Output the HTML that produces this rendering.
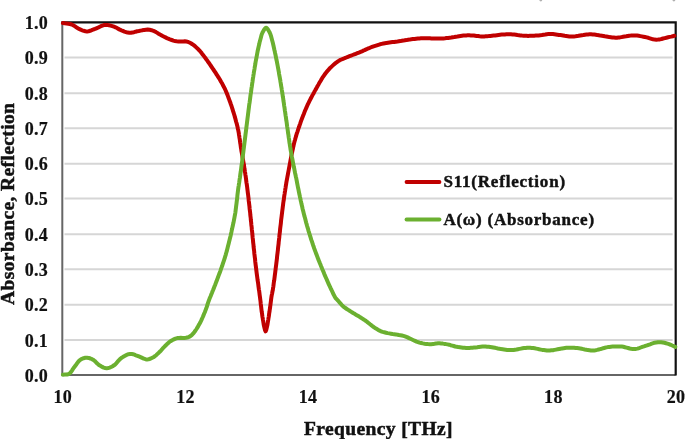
<!DOCTYPE html>
<html><head><meta charset="utf-8"><style>
html,body{margin:0;padding:0;background:#fff;width:685px;height:439px;overflow:hidden}
svg{position:absolute;left:0;top:0}
.t{font-family:"Liberation Serif","DejaVu Serif",serif;font-weight:bold;font-size:18px;fill:#111;stroke:#111;stroke-width:0.2px;letter-spacing:0.35px}
.a{font-family:"Liberation Serif","DejaVu Serif",serif;font-weight:bold;font-size:19.5px;fill:#111;letter-spacing:0.38px;stroke:#111;stroke-width:0.5px}
.l{letter-spacing:0.8px;font-size:17px;stroke-width:0.45px}
.g{stroke:#d6d6d6;stroke-width:2}
</style></head><body>
<svg width="685" height="439" viewBox="0 0 685 439">
<line x1="64.5" x2="672.6" y1="340.1" y2="340.1" class="g"/><line x1="64.5" x2="672.6" y1="304.8" y2="304.8" class="g"/><line x1="64.5" x2="672.6" y1="269.3" y2="269.3" class="g"/><line x1="64.5" x2="672.6" y1="234.2" y2="234.2" class="g"/><line x1="64.5" x2="672.6" y1="198.5" y2="198.5" class="g"/><line x1="64.5" x2="672.6" y1="163.7" y2="163.7" class="g"/><line x1="64.5" x2="672.6" y1="128.2" y2="128.2" class="g"/><line x1="64.5" x2="672.6" y1="93.2" y2="93.2" class="g"/><line x1="64.5" x2="672.6" y1="57.6" y2="57.6" class="g"/>
<ellipse cx="540.8" cy="0.3" rx="1.4" ry="1.1" fill="#b0b0b0"/><ellipse cx="673.9" cy="0.3" rx="1.4" ry="1.1" fill="#b0b0b0"/>
<path d="M62.3 22 V375.1 H675.6" fill="none" stroke="#666" stroke-width="2"/>
<path d="M61.3 22.3 H675.7 V375.4" fill="none" stroke="#111" stroke-width="2.2"/>
<path d="M62.9 23.0L64.7 23.3 66.5 23.5 68.3 23.7 70.0 24.0 71.7 24.5 73.2 25.2 74.7 26.1 76.1 27.1 77.5 28.1 79.0 28.9 80.6 29.6 82.1 30.3 83.8 30.8 85.4 31.2 87.0 31.4 88.6 31.2 90.2 30.8 91.7 30.2 93.3 29.5 95.0 28.9 96.4 28.3 97.9 27.7 99.4 26.9 100.9 26.2 102.4 25.6 103.9 25.1 105.3 24.9 107.1 24.9 108.9 25.2 110.6 25.6 112.3 26.1 114.0 26.7 115.5 27.3 117.0 28.1 118.4 28.9 119.8 29.6 121.3 30.3 122.8 30.9 124.4 31.6 126.0 32.1 127.6 32.6 129.3 32.8 130.8 32.8 132.4 32.5 134.0 32.2 135.6 31.7 137.2 31.3 138.8 31.0 140.6 30.6 142.4 30.3 144.2 29.9 146.0 29.7 147.6 29.6 149.6 29.8 151.5 30.2 153.4 30.8 154.7 31.4 156.0 32.1 157.3 32.9 158.6 33.7 160.0 34.5 161.3 35.2 162.7 36.0 164.1 36.7 165.5 37.4 166.9 38.1 168.2 38.7 169.9 39.4 171.7 40.0 173.4 40.6 175.0 41.0 176.7 41.3 178.3 41.4 180.0 41.5 181.6 41.5 183.2 41.4 184.8 41.3 186.4 41.5 187.9 41.9 189.4 42.5 190.9 43.3 192.3 44.2 193.7 45.2 195.0 46.2 196.3 47.4 197.7 48.7 198.9 50.0 200.1 51.2 201.2 52.5 202.2 53.9 203.3 55.3 204.3 56.6 205.4 58.0 206.3 59.3 207.3 60.7 208.2 62.0 209.2 63.3 210.1 64.7 211.0 66.0 211.9 67.3 212.8 68.7 213.7 70.0 214.6 71.3 215.5 72.7 216.3 74.0 217.2 75.3 218.0 76.7 218.9 78.0 219.7 79.3 220.5 80.7 221.2 82.0 222.0 83.3 222.7 84.6 223.4 86.0 224.1 87.3 224.8 88.7 225.4 90.0 226.1 91.6 226.8 93.2 227.4 94.8 228.0 96.4 228.6 98.0 229.2 99.6 229.8 101.2 230.4 102.8 230.9 104.4 231.5 106.0 232.0 107.6 232.5 109.2 233.0 110.8 233.5 112.4 234.0 114.0 234.5 115.6 234.9 117.2 235.4 118.8 235.8 120.4 236.2 122.0 236.7 123.6 237.1 125.2 237.5 126.8 237.8 128.4 238.2 130.0 238.5 131.6 238.8 133.2 239.0 134.8 239.3 136.4 239.5 138.0 239.8 139.6 240.0 141.2 240.2 142.8 240.5 144.4 240.7 146.0 240.9 147.6 241.2 149.2 241.4 150.8 241.7 152.4 242.0 154.0 242.3 155.6 242.5 157.2 242.8 158.8 243.1 160.4 243.4 162.0 243.7 163.6 243.9 165.2 244.2 166.8 244.4 168.4 244.7 170.0 244.9 171.6 245.2 173.2 245.4 174.8 245.7 176.4 245.9 178.0 246.1 179.6 246.3 181.2 246.5 182.8 246.8 184.4 247.0 186.0 247.2 187.6 247.4 189.2 247.6 190.8 247.8 192.4 248.0 194.0 248.2 195.6 248.4 197.2 248.6 198.8 248.7 200.4 248.9 202.0 249.1 203.6 249.3 205.2 249.5 206.8 249.6 208.4 249.8 210.0 250.0 211.6 250.2 213.2 250.3 214.8 250.5 216.4 250.7 218.0 250.8 219.6 251.0 221.2 251.2 222.8 251.3 224.4 251.5 226.0 251.7 227.6 251.8 229.2 252.0 230.8 252.2 232.4 252.3 234.0 252.5 235.6 252.6 237.2 252.8 238.8 253.0 240.4 253.1 242.0 253.3 243.6 253.5 245.2 253.6 246.8 253.8 248.4 254.0 250.0 254.2 251.6 254.3 253.2 254.5 254.8 254.7 256.4 254.9 258.0 255.1 259.6 255.2 261.2 255.4 262.8 255.6 264.4 255.8 266.0 256.0 267.6 256.2 269.2 256.4 270.8 256.6 272.4 256.8 274.0 257.0 275.6 257.2 277.1 257.4 278.6 257.6 280.2 257.9 282.0 258.1 283.3 258.3 284.8 258.5 286.4 258.7 288.0 258.9 289.6 259.2 291.2 259.4 292.8 259.6 294.4 259.8 295.9 260.0 297.3 260.2 299.0 260.4 300.6 260.6 302.1 260.7 303.5 260.9 305.0 261.1 306.5 261.3 308.2 261.5 310.0 261.7 311.7 262.0 313.3 262.2 315.0 262.4 316.6 262.7 318.1 262.9 319.6 263.2 321.1 263.4 322.5 263.7 324.5 264.1 326.3 264.5 328.0 265.0 330.1 265.6 331.3 266.2 330.1 266.7 328.0 267.1 326.3 267.5 324.5 267.8 322.5 268.0 321.1 268.3 319.6 268.5 318.1 268.8 316.5 269.0 315.0 269.2 313.3 269.5 311.7 269.7 310.0 270.0 308.2 270.2 306.5 270.4 305.0 270.6 303.4 270.8 301.9 271.0 300.3 271.2 298.8 271.4 297.3 271.7 295.4 272.1 293.6 272.4 291.8 272.8 290.0 273.0 288.4 273.3 286.8 273.5 285.2 273.7 283.6 273.9 282.0 274.2 280.4 274.4 278.8 274.6 277.2 274.8 275.6 275.0 274.0 275.2 272.4 275.4 270.8 275.6 269.2 275.8 267.6 276.0 266.0 276.2 264.4 276.4 262.8 276.6 261.2 276.8 259.6 277.0 258.0 277.1 256.4 277.3 254.8 277.5 253.2 277.7 251.6 277.9 250.0 278.0 248.4 278.2 246.8 278.4 245.2 278.6 243.6 278.7 242.0 278.9 240.4 279.1 238.8 279.3 237.2 279.4 235.6 279.6 234.0 279.8 232.4 280.0 230.8 280.1 229.2 280.3 227.6 280.5 226.0 280.7 224.4 280.9 222.8 281.0 221.2 281.2 219.6 281.4 218.0 281.6 216.4 281.8 214.8 282.0 213.2 282.2 211.6 282.4 210.0 282.6 208.4 282.8 206.8 283.0 205.2 283.2 203.6 283.4 202.0 283.7 200.4 283.9 198.8 284.1 197.2 284.3 195.6 284.6 194.0 284.8 192.4 285.1 190.8 285.3 189.2 285.6 187.6 285.8 186.0 286.1 184.4 286.3 182.8 286.6 181.2 286.9 179.6 287.2 178.0 287.5 176.4 287.8 174.8 288.1 173.2 288.4 171.6 288.7 170.0 289.0 168.4 289.3 166.8 289.6 165.2 289.9 163.6 290.2 162.0 290.5 160.4 290.8 158.8 291.1 157.2 291.4 155.6 291.7 154.0 292.1 152.4 292.4 150.8 292.8 149.2 293.1 147.6 293.5 146.0 293.8 144.4 294.2 142.8 294.6 141.2 295.1 139.6 295.5 138.0 296.0 136.4 296.4 134.8 296.9 133.2 297.5 131.6 298.0 130.0 298.5 128.4 299.1 126.8 299.6 125.2 300.2 123.6 300.7 122.0 301.3 120.4 301.9 118.8 302.5 117.2 303.1 115.6 303.8 114.0 304.4 112.4 305.0 110.8 305.7 109.2 306.4 107.6 307.1 106.0 307.8 104.4 308.6 102.8 309.4 101.2 310.2 99.6 311.0 98.0 311.7 96.7 312.4 95.3 313.2 94.0 313.9 92.7 314.6 91.3 315.4 90.0 316.1 88.7 316.9 87.3 317.6 86.0 318.4 84.7 319.1 83.3 319.9 82.0 320.7 80.7 321.5 79.3 322.3 77.9 323.2 76.6 324.1 75.3 325.0 74.0 326.0 72.7 327.1 71.4 328.2 70.2 329.3 68.9 330.4 67.7 331.6 66.6 332.9 65.4 334.2 64.2 335.5 63.1 336.9 62.1 338.3 61.1 339.8 60.2 341.4 59.5 343.0 58.8 344.7 58.2 346.3 57.5 347.9 56.8 349.5 56.2 351.1 55.6 352.7 55.0 354.2 54.4 355.8 53.8 357.3 53.2 358.9 52.6 360.6 51.9 361.9 51.4 363.2 50.7 364.6 50.1 366.1 49.4 367.6 48.7 369.1 48.1 370.5 47.5 372.0 46.9 373.6 46.3 375.2 45.8 376.8 45.3 378.4 44.8 380.0 44.3 381.7 43.9 383.4 43.5 384.9 43.2 386.4 42.9 387.9 42.7 389.4 42.5 390.9 42.3 392.5 42.1 394.1 41.9 395.8 41.7 397.5 41.5 398.9 41.3 400.4 41.1 401.9 40.8 403.4 40.6 404.9 40.3 406.5 40.1 408.1 39.8 409.7 39.6 411.3 39.3 412.9 39.1 414.5 38.9 416.2 38.7 417.8 38.5 419.4 38.4 420.9 38.3 422.4 38.3 423.8 38.2 425.3 38.2 426.8 38.3 428.3 38.3 429.9 38.3 431.4 38.4 432.9 38.4 434.4 38.5 435.9 38.5 437.5 38.5 439.0 38.5 440.5 38.5 442.0 38.5 443.5 38.4 445.0 38.3 446.6 38.1 448.1 37.9 449.7 37.7 451.2 37.5 452.8 37.2 454.3 37.0 455.9 36.7 457.4 36.5 459.0 36.2 460.5 36.0 462.0 35.8 463.4 35.6 464.8 35.5 466.2 35.4 467.6 35.3 469.2 35.3 470.8 35.4 472.3 35.5 473.8 35.6 475.2 35.8 476.6 36.0 478.1 36.1 479.6 36.3 481.2 36.4 482.9 36.4 484.3 36.4 485.7 36.3 487.2 36.2 488.7 36.1 490.3 35.9 491.9 35.7 493.6 35.5 495.2 35.4 496.8 35.2 498.5 35.0 500.1 34.8 501.7 34.6 503.3 34.5 504.9 34.4 506.4 34.3 507.8 34.2 509.2 34.2 510.9 34.3 512.6 34.4 514.3 34.5 515.9 34.7 517.4 35.0 519.0 35.2 520.5 35.4 522.0 35.6 523.5 35.7 525.0 35.8 526.6 35.8 528.1 35.9 529.7 35.8 531.2 35.8 532.7 35.8 534.2 35.7 535.7 35.6 537.2 35.5 538.6 35.4 540.3 35.2 541.9 35.0 543.6 34.7 545.2 34.5 546.8 34.2 548.4 34.1 549.9 34.0 551.5 34.0 552.9 34.1 554.4 34.3 555.9 34.5 557.4 34.7 559.0 34.9 560.4 35.1 561.8 35.3 563.2 35.5 564.7 35.8 566.2 36.0 567.8 36.2 569.3 36.4 570.9 36.5 572.5 36.5 574.0 36.4 575.5 36.3 577.1 36.1 578.7 35.8 580.2 35.5 581.8 35.2 583.4 35.0 585.0 34.7 586.5 34.5 588.0 34.4 589.5 34.3 591.1 34.3 592.7 34.4 594.3 34.6 595.8 34.8 597.3 35.1 598.8 35.3 600.3 35.6 601.9 35.8 603.4 36.0 604.8 36.3 606.3 36.5 607.8 36.8 609.3 37.1 610.8 37.3 612.3 37.5 613.9 37.6 615.5 37.7 616.9 37.7 618.4 37.5 619.9 37.4 621.5 37.1 623.1 36.8 624.6 36.5 626.2 36.3 627.8 36.0 629.3 35.7 630.8 35.6 632.2 35.4 633.6 35.4 635.4 35.5 637.1 35.6 638.7 35.8 640.3 36.1 641.8 36.4 643.4 36.7 645.0 37.0 646.6 37.4 648.3 37.8 649.9 38.3 651.5 38.8 653.1 39.3 654.7 39.6 656.3 39.7 658.0 39.6 659.8 39.4 661.5 39.0 663.1 38.5 664.8 38.1 666.4 37.7 668.1 37.3 669.7 36.9 671.2 36.6 672.8 36.2 674.4 35.8" fill="none" stroke="#c00000" stroke-width="4" stroke-linejoin="round" stroke-linecap="round"/>
<path d="M62.9 374.7L64.9 374.6 66.9 374.6 68.8 374.0 69.9 373.2 70.9 372.1 71.8 370.8 72.7 369.4 73.6 368.0 74.6 366.7 75.5 365.5 76.5 364.2 77.4 362.9 78.3 361.7 79.3 360.6 80.4 359.7 82.0 358.8 83.6 358.2 85.3 357.8 87.0 357.7 88.7 357.9 90.4 358.5 92.0 359.2 93.6 360.1 94.8 361.0 95.9 362.1 97.0 363.3 98.2 364.4 99.4 365.3 100.8 366.1 102.2 366.9 103.7 367.6 105.2 368.0 106.7 368.2 108.2 368.0 109.7 367.6 111.1 367.0 112.6 366.2 114.0 365.3 115.3 364.3 116.5 363.1 117.6 361.7 118.8 360.4 120.0 359.1 121.3 358.0 122.7 357.1 124.1 356.2 125.6 355.4 127.1 354.7 128.6 354.2 130.1 353.9 131.6 353.9 133.0 354.2 134.4 354.7 135.9 355.3 137.4 355.8 138.9 356.4 140.5 357.1 142.2 357.9 143.8 358.7 145.4 359.2 146.9 359.4 148.6 359.2 150.3 358.8 151.8 358.0 153.4 357.2 154.8 356.3 156.2 355.2 157.5 353.9 158.8 352.7 160.0 351.5 161.2 350.3 162.3 349.0 163.3 347.8 164.5 346.6 165.6 345.5 166.8 344.3 168.0 343.2 169.2 342.1 170.5 341.2 172.1 340.2 173.8 339.4 175.5 338.6 177.3 338.1 179.0 337.9 180.8 337.8 182.7 337.9 184.5 337.9 186.0 337.8 188.2 337.3 190.0 336.4 191.7 335.1 193.3 333.4 194.4 332.0 195.5 330.5 196.5 329.0 197.5 327.4 198.4 325.8 199.4 324.1 200.1 322.8 200.8 321.4 201.5 319.9 202.1 318.5 202.8 317.0 203.5 315.4 204.1 313.8 204.8 312.2 205.4 310.6 206.0 309.0 206.6 307.4 207.1 305.8 207.6 304.2 208.1 302.6 208.7 301.0 209.3 299.4 209.9 297.8 210.6 296.2 211.2 294.6 211.9 293.0 212.5 291.4 213.2 289.8 213.8 288.2 214.4 286.6 215.1 285.0 215.7 283.4 216.3 281.8 216.9 280.2 217.5 278.6 218.1 277.0 218.7 275.4 219.3 273.8 219.9 272.2 220.5 270.6 221.0 269.0 221.6 267.4 222.2 265.8 222.7 264.2 223.2 262.6 223.8 261.0 224.3 259.4 224.8 257.8 225.3 256.2 225.8 254.6 226.2 253.0 226.7 251.4 227.1 249.8 227.5 248.2 227.9 246.6 228.3 245.0 228.7 243.4 229.1 241.8 229.5 240.2 229.9 238.6 230.3 237.0 230.7 235.4 231.0 233.8 231.4 232.2 231.7 230.6 232.1 229.0 232.4 227.4 232.8 225.8 233.1 224.2 233.5 222.6 233.8 221.0 234.1 219.4 234.4 217.8 234.7 216.2 235.0 214.6 235.3 213.0 235.5 211.4 235.7 209.8 235.9 208.2 236.1 206.6 236.3 205.0 236.5 203.4 236.7 201.8 236.9 200.2 237.1 198.6 237.3 197.0 237.4 195.4 237.6 193.8 237.8 192.2 238.0 190.6 238.2 189.0 238.4 187.4 238.7 185.8 238.9 184.2 239.2 182.6 239.4 181.0 239.6 179.4 239.9 177.8 240.1 176.2 240.3 174.6 240.5 173.0 240.8 171.4 241.0 169.8 241.2 168.2 241.4 166.6 241.6 165.0 241.9 163.4 242.1 161.8 242.3 160.2 242.5 158.6 242.7 157.0 242.9 155.4 243.1 153.8 243.3 152.2 243.5 150.6 243.7 149.0 243.9 147.4 244.1 145.8 244.3 144.2 244.5 142.6 244.7 141.0 244.9 139.4 245.1 137.8 245.3 136.2 245.5 134.6 245.7 133.0 245.9 131.4 246.1 129.8 246.3 128.2 246.5 126.6 246.7 125.0 246.9 123.4 247.1 121.8 247.3 120.2 247.5 118.6 247.7 117.0 247.9 115.4 248.1 113.8 248.3 112.2 248.5 110.6 248.7 109.0 248.9 107.4 249.1 105.8 249.3 104.2 249.6 102.6 249.8 101.0 250.0 99.4 250.2 97.8 250.4 96.2 250.6 94.6 250.9 93.0 251.1 91.4 251.3 89.8 251.5 88.2 251.8 86.6 252.0 85.0 252.2 83.4 252.5 81.8 252.7 80.2 252.9 78.6 253.2 77.0 253.4 75.4 253.7 73.8 253.9 72.2 254.2 70.6 254.5 69.0 254.7 67.4 255.0 65.8 255.3 64.2 255.5 62.6 255.8 61.0 256.1 59.4 256.4 57.8 256.7 56.3 257.0 54.7 257.3 53.0 257.6 51.3 258.0 49.5 258.4 47.7 258.8 45.9 259.2 44.3 259.5 42.8 259.9 41.1 260.3 39.7 260.7 38.2 261.1 36.7 261.5 35.1 262.0 33.7 262.8 31.9 263.8 30.2 264.9 28.6 266.1 27.7 267.3 28.6 268.4 30.2 269.4 31.9 270.2 33.7 270.7 35.1 271.2 36.7 271.6 38.2 272.0 39.7 272.4 41.2 272.8 42.8 273.2 44.5 273.6 46.3 274.0 48.1 274.4 50.0 274.8 51.6 275.1 53.2 275.5 54.8 275.8 56.4 276.1 58.0 276.4 59.6 276.8 61.2 277.1 62.8 277.4 64.4 277.7 66.0 278.0 67.6 278.3 69.2 278.6 70.8 278.9 72.4 279.1 74.0 279.4 75.6 279.7 77.2 280.0 78.8 280.3 80.4 280.5 82.0 280.8 83.6 281.0 85.2 281.3 86.8 281.6 88.4 281.8 90.0 282.1 91.6 282.3 93.2 282.6 94.8 282.8 96.4 283.1 98.0 283.3 99.6 283.5 101.2 283.8 102.8 284.0 104.4 284.2 106.0 284.5 107.6 284.7 109.2 284.9 110.8 285.2 112.4 285.4 114.0 285.6 115.6 285.9 117.2 286.1 118.8 286.3 120.4 286.6 122.0 286.8 123.6 287.0 125.2 287.2 126.8 287.5 128.4 287.7 130.0 287.9 131.6 288.1 133.2 288.4 134.8 288.6 136.4 288.8 138.0 289.1 139.6 289.3 141.2 289.5 142.8 289.8 144.4 290.0 146.0 290.3 147.6 290.5 149.2 290.8 150.8 291.1 152.4 291.4 154.0 291.6 155.6 291.9 157.2 292.3 158.8 292.6 160.4 292.9 162.0 293.2 163.6 293.5 165.2 293.8 166.8 294.2 168.4 294.5 170.0 294.8 171.6 295.1 173.2 295.5 174.8 295.8 176.4 296.2 178.0 296.5 179.6 296.8 181.2 297.1 182.8 297.4 184.4 297.7 186.0 298.0 187.6 298.4 189.2 298.7 190.8 299.0 192.4 299.3 194.0 299.7 195.6 300.0 197.2 300.4 198.8 300.7 200.4 301.1 202.0 301.4 203.6 301.8 205.2 302.2 206.8 302.5 208.4 302.9 210.0 303.3 211.6 303.7 213.2 304.1 214.8 304.5 216.4 305.0 218.0 305.4 219.6 305.8 221.2 306.2 222.8 306.7 224.4 307.1 226.0 307.6 227.6 308.1 229.2 308.5 230.8 309.0 232.4 309.5 234.0 310.0 235.6 310.5 237.2 311.0 238.8 311.5 240.4 312.1 242.0 312.6 243.6 313.1 245.2 313.7 246.8 314.2 248.4 314.8 250.0 315.4 251.6 316.0 253.2 316.6 254.8 317.2 256.4 317.8 258.0 318.4 259.6 319.1 261.2 319.7 262.8 320.4 264.4 321.0 266.0 321.7 267.6 322.3 269.2 323.0 270.8 323.7 272.4 324.3 274.0 325.0 275.6 325.7 277.2 326.4 278.8 327.1 280.4 327.8 282.0 328.5 283.6 329.2 285.2 330.0 286.8 330.7 288.4 331.5 290.0 332.3 291.7 333.1 293.5 334.0 295.2 334.8 296.8 335.5 298.0 337.3 299.8 338.2 300.8 339.2 302.1 340.4 303.4 341.6 304.8 342.8 306.0 344.1 307.1 345.4 308.0 346.8 309.0 348.2 309.9 349.6 310.8 350.9 311.6 352.3 312.5 353.6 313.3 355.0 314.1 356.4 315.0 357.8 315.8 359.2 316.6 360.6 317.5 362.0 318.4 363.3 319.2 364.7 320.1 366.0 321.0 367.4 322.1 368.8 323.2 370.1 324.3 371.5 325.4 372.9 326.5 374.2 327.4 375.5 328.3 376.9 329.1 378.3 329.9 379.7 330.7 381.1 331.3 382.7 331.9 384.3 332.3 386.0 332.7 387.6 333.1 389.3 333.4 390.9 333.7 392.6 334.0 394.2 334.2 395.9 334.4 397.5 334.7 399.0 335.0 400.4 335.2 401.9 335.5 403.4 335.9 405.0 336.4 406.3 336.9 407.6 337.4 409.0 338.1 410.5 338.8 412.0 339.5 413.5 340.2 415.0 340.9 416.5 341.6 418.0 342.1 419.4 342.6 421.1 343.0 422.9 343.4 424.6 343.7 426.3 343.9 428.0 344.1 429.6 344.2 431.1 344.2 433.0 344.1 434.6 343.8 436.3 343.4 438.1 343.3 439.6 343.3 441.1 343.4 442.7 343.6 444.3 343.9 445.9 344.1 447.5 344.4 449.1 344.7 450.6 345.2 452.2 345.6 453.7 346.0 455.2 346.5 456.8 346.8 458.3 347.1 459.9 347.3 461.4 347.5 463.0 347.7 464.5 347.8 466.1 347.9 467.7 347.9 469.3 347.9 470.9 347.8 472.5 347.7 474.0 347.6 475.5 347.5 477.3 347.3 479.0 346.9 480.7 346.7 482.5 346.5 484.0 346.5 485.5 346.5 487.1 346.7 488.7 346.8 490.2 347.0 491.8 347.2 493.3 347.5 494.9 347.8 496.4 348.1 497.9 348.5 499.5 348.8 501.1 349.1 502.6 349.3 504.1 349.5 505.7 349.7 507.2 349.9 508.8 350.0 510.5 350.0 512.2 350.0 513.6 349.9 515.0 349.7 516.5 349.5 517.9 349.2 519.4 348.9 521.0 348.6 522.5 348.3 524.1 348.1 525.7 347.9 527.2 347.7 528.8 347.7 530.2 347.8 531.7 347.9 533.2 348.1 534.7 348.3 536.2 348.6 537.7 348.9 539.2 349.3 540.7 349.6 542.3 349.9 543.8 350.1 545.3 350.3 546.8 350.5 548.3 350.5 549.8 350.5 551.3 350.3 552.9 350.2 554.4 349.9 556.0 349.6 557.6 349.3 559.1 349.0 560.6 348.7 562.1 348.4 563.6 348.2 565.0 348.0 566.4 347.8 567.7 347.7 569.4 347.7 571.1 347.7 572.6 347.7 574.1 347.8 575.6 348.0 577.2 348.1 578.8 348.3 580.3 348.5 581.7 348.8 583.2 349.1 584.8 349.5 586.3 349.8 587.9 350.1 589.4 350.3 591.0 350.5 592.6 350.5 594.1 350.4 595.6 350.2 597.1 349.9 598.7 349.5 600.2 349.1 601.8 348.7 603.3 348.2 604.9 347.8 606.4 347.4 607.9 347.1 609.3 346.9 610.9 346.7 612.5 346.6 614.1 346.5 615.7 346.4 617.2 346.4 618.7 346.4 620.3 346.5 621.8 346.6 623.4 346.8 624.9 347.2 626.5 347.6 628.1 348.0 629.7 348.5 631.2 348.8 632.7 349.0 634.2 349.1 635.9 348.9 637.5 348.6 639.1 348.1 640.7 347.5 642.3 346.9 644.0 346.4 645.4 345.9 647.0 345.4 648.5 344.8 650.1 344.3 651.7 343.7 653.3 343.2 654.8 342.7 656.4 342.4 657.8 342.2 659.5 342.2 661.2 342.3 662.8 342.5 664.4 342.8 666.0 343.2 667.5 343.6 669.1 344.1 670.7 344.8 672.2 345.5 673.8 346.2 675.3 346.9" fill="none" stroke="#6bb030" stroke-width="4" stroke-linejoin="round" stroke-linecap="round"/>
<line x1="406.5" x2="439.5" y1="182" y2="182" stroke="#c00000" stroke-width="3.8" stroke-linecap="round"/>
<line x1="406.5" x2="439.5" y1="219.5" y2="219.5" stroke="#6bb030" stroke-width="3.8" stroke-linecap="round"/>
<text x="443.4" y="186.5" class="t l">S11(Reflection)</text>
<text x="443.4" y="225.4" class="t l" style="letter-spacing:0.76px">A(ω) (Absorbance)</text>
<text x="48.2" y="381.7" class="t" text-anchor="end">0.0</text><text x="48.2" y="346.6" class="t" text-anchor="end">0.1</text><text x="48.2" y="311.3" class="t" text-anchor="end">0.2</text><text x="48.2" y="275.8" class="t" text-anchor="end">0.3</text><text x="48.2" y="240.7" class="t" text-anchor="end">0.4</text><text x="48.2" y="205.0" class="t" text-anchor="end">0.5</text><text x="48.2" y="170.2" class="t" text-anchor="end">0.6</text><text x="48.2" y="134.7" class="t" text-anchor="end">0.7</text><text x="48.2" y="99.7" class="t" text-anchor="end">0.8</text><text x="48.2" y="64.1" class="t" text-anchor="end">0.9</text><text x="48.2" y="28.7" class="t" text-anchor="end">1.0</text>
<text x="62.8" y="402.6" class="t" text-anchor="middle">10</text><text x="185.5" y="402.6" class="t" text-anchor="middle">12</text><text x="308.1" y="402.6" class="t" text-anchor="middle">14</text><text x="430.8" y="402.6" class="t" text-anchor="middle">16</text><text x="553.4" y="402.6" class="t" text-anchor="middle">18</text><text x="676.1" y="402.6" class="t" text-anchor="middle">20</text>
<text x="378.5" y="434.8" class="a" text-anchor="middle">Frequency [THz]</text>
<text transform="translate(14.0 203.8) rotate(-90)" x="0" y="0" class="a" text-anchor="middle">Absorbance, Reflection</text>
</svg>
</body></html>
